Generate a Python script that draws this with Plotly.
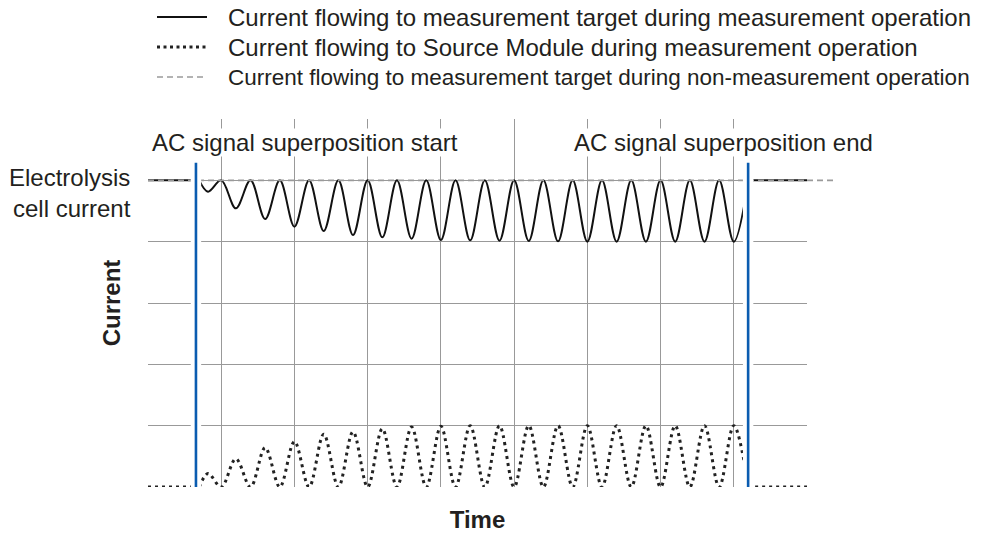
import plotly.graph_objects as go

# ---------------- data ----------------
# Axis frame: time in grid columns, current in grid rows
x_range = [0, 9]
y_range = [0, 6]
x_grid = [0, 1, 2, 3, 4, 5, 6, 7, 8, 9]
y_grid = [0, 1, 2, 3, 4, 5, 6]

electrolysis_level = 5.0      # "Electrolysis cell current"
source_idle_level = 0.0
ac_start = 0.655              # AC signal superposition start
ac_end = 8.196                # AC signal superposition end
ref_line_end = 9.37           # grey dashed line runs a little past the frame

# extrema of the waveforms during AC superposition
t_ac = [0.70, 0.82, 1.00, 1.20, 1.40, 1.60, 1.80, 2.00, 2.20, 2.40, 2.60, 2.80,
        3.00, 3.20, 3.40, 3.60, 3.80, 4.00, 4.20, 4.40, 4.60, 4.80, 5.00, 5.20,
        5.40, 5.60, 5.80, 6.00, 6.20, 6.40, 6.60, 6.80, 7.00, 7.20, 7.40, 7.60,
        7.80, 8.00, 8.20]
i_target_ac = [5.00, 4.815, 5.00, 4.543, 5.00, 4.37, 5.00, 4.245, 5.00, 4.174, 5.00, 4.109,
               5.00, 4.07, 5.00, 4.049, 5.00, 4.027, 5.00, 4.022, 5.00, 4.016, 5.00, 4.011,
               5.00, 4.005, 5.00, 4.00, 5.00, 4.00, 5.00, 4.00, 5.00, 4.00, 5.00, 4.00,
               5.00, 4.00, 5.00]
i_source_ac = [0.00, 0.22, 0.00, 0.46, 0.00, 0.64, 0.00, 0.74, 0.00, 0.86, 0.00, 0.90,
               0.00, 0.95, 0.00, 0.98, 0.00, 0.99, 0.00, 1.00, 0.00, 1.00, 0.00, 1.00,
               0.00, 1.00, 0.00, 1.00, 0.00, 1.00, 0.00, 1.00, 0.00, 1.00, 0.00, 1.00,
               0.00, 1.00, 0.00]

t_pre = [0.0, ac_start]
t_post = [ac_end, 9.0]

legend_names = [
    "Current flowing to measurement target during measurement operation",
    "Current flowing to Source Module during measurement operation",
    "Current flowing to measurement target during non-measurement operation",
]
legend_font_sizes = [24, 24, 22.5]
level_label = "Electrolysis<br>cell current"
start_label = "AC signal superposition start"
end_label = "AC signal superposition end"
x_title = "Time"
y_title = "Current"

# ---------------- styling ----------------
FONT = "Arial, Liberation Sans, sans-serif"
TXT = "#231f20"
GRID = "#999999"
GREY_DASH = "#9a9a9a"
BLUE = "#0a5cb0"
W, H = 989, 540
PL, PT, PW, PH = 148, 119, 659, 368


def paper_x(px):
    return (px - PL) / PW


def paper_y(py):
    return (PT + PH - py) / PH


def joined(a, b, c):
    return a + [None] + b + [None] + c


x_all = joined(t_pre, t_ac, t_post)
y_target = joined([electrolysis_level] * len(t_pre), i_target_ac, [electrolysis_level] * len(t_post))
y_source = joined([source_idle_level] * len(t_pre), i_source_ac, [source_idle_level] * len(t_post))

fig = go.Figure()
fig.add_trace(go.Scatter(
    x=x_all, y=y_target, mode="lines", name=legend_names[0],
    line=dict(color="#111111", width=2, shape="spline", smoothing=1),
    connectgaps=False, showlegend=False, hoverinfo="skip"))
fig.add_trace(go.Scatter(
    x=x_all, y=y_source, mode="lines", name=legend_names[1],
    line=dict(color="#222222", width=3, dash="3px,4px", shape="spline", smoothing=1),
    connectgaps=False, showlegend=False, hoverinfo="skip"))
fig.add_trace(go.Scatter(
    x=[x_range[0], x_range[1]], y=[electrolysis_level, electrolysis_level], mode="lines",
    name=legend_names[2], line=dict(color=GREY_DASH, width=1.6, dash="6px,4px"),
    showlegend=False, hoverinfo="skip"))

shapes = []
# grey dashed reference line continues past the right frame
shapes.append(dict(type="line", xref="paper", yref="y",
                   x0=x_range[1] / x_range[1], x1=ref_line_end / x_range[1],
                   y0=electrolysis_level, y1=electrolysis_level,
                   line=dict(color=GREY_DASH, width=1.6, dash="6px,4px"), layer="above"))
# white gaps around the blue markers, then the markers
gap = 0.071
blue_top = 5.288
for xm in (ac_start, ac_end):
    shapes.append(dict(type="rect", xref="x", yref="y", x0=xm - gap, x1=xm + gap,
                       y0=-0.2, y1=blue_top, fillcolor="white", line=dict(width=0),
                       layer="above"))
for xm in (ac_start, ac_end):
    shapes.append(dict(type="line", xref="x", yref="y", x0=xm, x1=xm,
                       y0=0, y1=blue_top, line=dict(color=BLUE, width=2.6),
                       layer="above"))

# legend samples (drawn manually to match the figure's long symbols)
legend_rows = [17, 47, 77]
legend_styles = [
    dict(color="#111111", width=2),
    dict(color="#222222", width=3, dash="3px,3.5px"),
    dict(color=GREY_DASH, width=1.6, dash="6px,4px"),
]
annotations = []
for row, name, st, fs in zip(legend_rows, legend_names, legend_styles, legend_font_sizes):
    shapes.append(dict(type="line", xref="paper", yref="paper",
                       x0=paper_x(157), x1=paper_x(207), y0=paper_y(row), y1=paper_y(row),
                       line=st))
    annotations.append(dict(xref="paper", yref="paper", x=paper_x(226), y=paper_y(row),
                            xanchor="left", yanchor="middle", text=name, showarrow=False,
                            font=dict(family=FONT, size=fs, color=TXT)))

annotations.append(dict(xref="x", yref="y", x=0.035, y=5.615, xanchor="left", yanchor="middle",
                        text=start_label, showarrow=False, bgcolor="white", borderpad=0,
                        font=dict(family=FONT, size=24, color=TXT)))
annotations.append(dict(xref="x", yref="y", x=5.81, y=5.615, xanchor="left", yanchor="middle",
                        text=end_label, showarrow=False, bgcolor="white", borderpad=0,
                        font=dict(family=FONT, size=24, color=TXT)))
annotations.append(dict(xref="paper", yref="y", x=0, y=electrolysis_level, xanchor="right",
                        yanchor="middle", xshift=-15, yshift=-12.5, align="right",
                        text=level_label, showarrow=False,
                        font=dict(family=FONT, size=24, color=TXT)))

fig.update_layout(
    width=W, height=H,
    margin=dict(l=PL, r=W - PL - PW, t=PT, b=H - PT - PH, pad=0),
    paper_bgcolor="white", plot_bgcolor="white",
    font=dict(family=FONT, size=24, color=TXT),
    showlegend=False,
    shapes=shapes, annotations=annotations,
    xaxis=dict(range=x_range, tickvals=x_grid, showticklabels=False, ticks="",
               showgrid=True, gridcolor=GRID, gridwidth=1, zeroline=False, showline=False,
               fixedrange=True, automargin=False,
               title=dict(text=x_title, standoff=24,
                          font=dict(family=FONT, size=24, color=TXT, weight="bold"))),
    yaxis=dict(range=y_range, tickvals=y_grid, showticklabels=False, ticks="",
               showgrid=True, gridcolor=GRID, gridwidth=1, zeroline=False, showline=False,
               fixedrange=True, automargin=False,
               title=dict(text=y_title, standoff=19,
                          font=dict(family=FONT, size=24, color=TXT, weight="bold"))),
)

fig.write_html("out.html", config={"displayModeBar": False},
               post_script="document.body.style.margin='0';document.body.style.overflow='hidden';")
